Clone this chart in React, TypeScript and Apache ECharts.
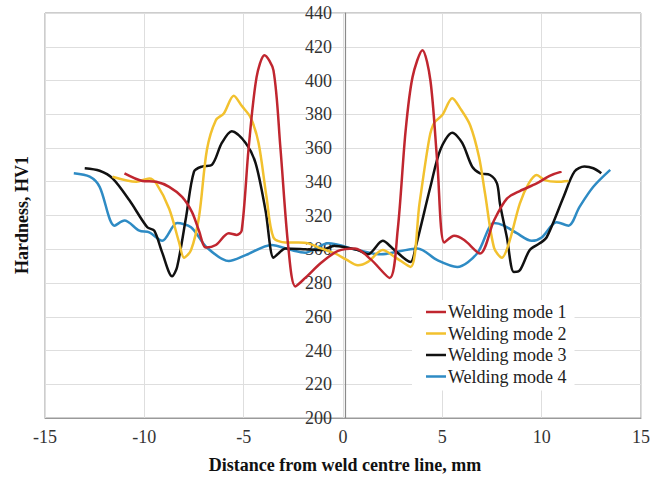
import React, { useEffect, useRef } from "react";
import * as echarts from "echarts";

const seriesNames = ["Welding mode 1", "Welding mode 2", "Welding mode 3", "Welding mode 4"];
const seriesColors = ["#C0262F", "#F2C12E", "#111111", "#2E8BC4"];

const mode1: [number, number][] = [
  [-11, 345], [-10.1, 340.5], [-9.4, 340], [-8.75, 337], [-8.1, 331], [-7.6, 322], [-7.25, 311], [-6.9, 301],
  [-6.4, 302.5], [-5.75, 309.5], [-5.35, 308.5], [-5.1, 311], [-4.75, 360], [-4.35, 402], [-3.95, 415],
  [-3.5, 406], [-3.15, 360], [-2.75, 301], [-2.4, 278], [-1.9, 283], [-1.1, 292], [-0.25, 299], [0.6, 300.5],
  [1.4, 294], [2.35, 283], [2.75, 311], [3.15, 370], [3.5, 402], [4, 418], [4.4, 400], [4.75, 351], [5.1, 304],
  [5.6, 308], [6.1, 305.5], [6.9, 297.5], [7.6, 317], [8.25, 330], [8.9, 334.5], [9.75, 339], [10.4, 343.5], [11, 346],
];

const mode2: [number, number][] = [
  [-11.6, 343], [-10.4, 340], [-9.75, 342], [-9.4, 339], [-8.75, 324], [-8.25, 304], [-8, 295], [-7.65, 299.5],
  [-7.25, 319], [-6.85, 359], [-6.4, 376.5], [-6, 380.5], [-5.5, 391], [-5.1, 385], [-4.65, 378], [-4.25, 363],
  [-3.85, 331], [-3.5, 307], [-2.9, 304], [-2.25, 304], [-1.75, 303.5], [-1.1, 300.5], [-0.4, 297.5], [0.15, 294],
  [0.75, 290.5], [1.25, 292.5], [2, 299.5], [2.6, 295.5], [3.4, 289.5], [3.85, 327], [4.35, 366], [4.6, 375],
  [5, 379.5], [5.5, 389.5], [5.9, 383.5], [6.4, 373.5], [6.85, 354.5], [7.15, 333], [7.6, 301], [8, 295],
  [8.35, 303.5], [8.9, 327], [9.35, 339], [9.75, 344], [10.15, 341], [10.75, 340], [11.35, 340.5],
];

const mode3: [number, number][] = [
  [-13, 348], [-12.25, 346.5], [-11.6, 342], [-10.75, 329], [-9.85, 313], [-9.5, 311], [-9.1, 298], [-8.6, 284],
  [-8.35, 289.5], [-7.9, 319], [-7.5, 346], [-7.1, 349], [-6.6, 350], [-6.1, 363], [-5.6, 370], [-4.9, 363],
  [-4.4, 351], [-3.9, 323], [-3.5, 295], [-3.25, 297.5], [-2.9, 300.5], [-1.9, 300], [-1.1, 299.5], [-0.4, 302],
  [0.75, 299.5], [1.25, 297], [2, 305], [2.5, 300.5], [3.4, 292.5], [3.65, 301], [4.4, 337], [4.9, 359],
  [5.5, 369], [6, 363], [6.5, 349], [6.9, 345], [7.4, 344], [7.75, 339], [7.9, 327], [8.25, 307], [8.6, 286.5],
  [8.9, 287.5], [9.4, 299.5], [9.9, 303.5], [10.25, 307], [11.1, 331], [11.65, 346], [12.15, 349], [12.6, 348], [13, 345],
];

const mode4: [number, number][] = [
  [-13.55, 345], [-12.75, 343], [-12.25, 337], [-11.5, 314], [-11, 317], [-10.25, 311], [-9.75, 310], [-9.1, 305],
  [-8.35, 315.5], [-7.65, 313], [-6.85, 301], [-5.75, 293], [-4.9, 296.5], [-3.6, 302.5], [-2.6, 299.5], [-1.9, 298],
  [-0.75, 303.5], [0.75, 299.5], [1.9, 297], [3.75, 300.5], [4.75, 293.5], [5.75, 289.5], [6.75, 297.5], [7.6, 315.5],
  [8.1, 314], [8.75, 309.5], [9.5, 305], [10, 307], [10.75, 316], [11.35, 314], [11.9, 325], [12.6, 337], [13.45, 347],
];

const allData = [mode1, mode2, mode3, mode4];
const xTitle = "Distance from weld centre line, mm";
const yTitle = "Hardness, HV1";
const FONT = "Liberation Serif";

export default function App() {
  const ref = useRef<HTMLDivElement>(null);
  useEffect(() => {
    if (!ref.current) return;
    const chart = echarts.init(ref.current, undefined, { renderer: "svg" });
    chart.setOption({
      animation: false,
      backgroundColor: "#ffffff",
      textStyle: { fontFamily: FONT },
      grid: {
        left: 45,
        right: 8,
        top: 13,
        bottom: 60,
        show: true,
        borderColor: "#9a9a9a",
        borderWidth: 1,
        containLabel: false,
      },
      xAxis: {
        type: "value",
        min: -15,
        max: 15,
        interval: 5,
        axisLine: { onZero: false, lineStyle: { color: "#9a9a9a", width: 1 } },
        axisTick: { show: false },
        axisLabel: { fontFamily: FONT, fontSize: 18, color: "#333", margin: 10 },
        splitLine: { show: true, lineStyle: { color: "#dedede", width: 1 } },
      },
      yAxis: {
        type: "value",
        min: 200,
        max: 440,
        interval: 20,
        offset: -300,
        axisLine: { show: true, onZero: false, lineStyle: { color: "#8a8a8a", width: 1.2 } },
        axisTick: { show: false },
        axisLabel: { fontFamily: FONT, fontSize: 18, color: "#333", margin: 13 },
        splitLine: { show: true, lineStyle: { color: "#dedede", width: 1 } },
      },
      legend: {
        orient: "vertical",
        left: 412,
        top: 300,
        backgroundColor: "#ffffff",
        padding: [3, 8, 5, 14],
        itemGap: 3.5,
        icon: "rect",
        itemWidth: 20,
        itemHeight: 2.5,
        textStyle: { fontFamily: FONT, fontSize: 18, color: "#222", padding: [0, 0, 0, -3] },
        data: seriesNames,
      },
      graphic: [
        {
          type: "text",
          x: 22,
          y: 215,
          rotation: Math.PI / 2,
          style: {
            text: yTitle,
            fontFamily: FONT,
            fontSize: 18,
            fontWeight: "bold",
            fill: "#111",
            align: "center",
            verticalAlign: "middle",
          },
        },
        {
          type: "text",
          x: 345,
          y: 465,
          style: {
            text: xTitle,
            fontFamily: FONT,
            fontSize: 18,
            fontWeight: "bold",
            fill: "#111",
            align: "center",
            verticalAlign: "middle",
          },
        },
      ],
      series: allData.map((d, i) => ({
        name: seriesNames[i],
        type: "line",
        data: d,
        smooth: 0.3,
        showSymbol: false,
        symbol: "none",
        color: seriesColors[i],
        lineStyle: { color: seriesColors[i], width: 2.5 },
        z: 4 - i,
      })),
    });
    return () => chart.dispose();
  }, []);
  return (
    <div
      ref={ref}
      style={{ position: "fixed", left: 0, top: 0, width: 653, height: 478 }}
    />
  );
}
